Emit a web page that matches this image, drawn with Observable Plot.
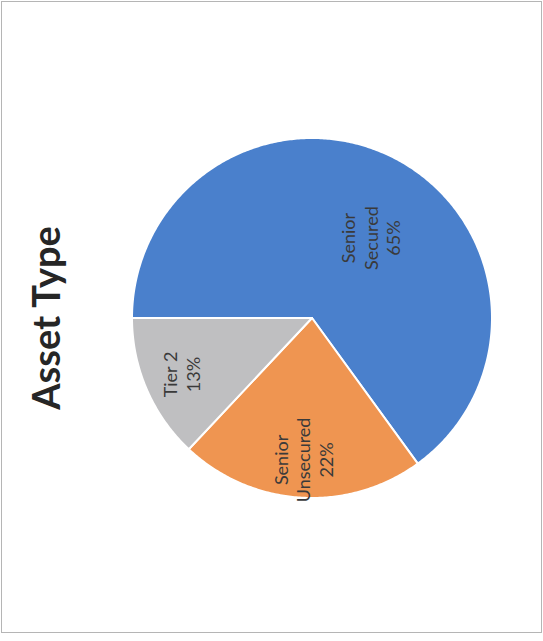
<!DOCTYPE html>
<html>
<head>
<meta charset="utf-8">
<script src="https://cdn.jsdelivr.net/npm/d3@7"></script>
<script src="https://cdn.jsdelivr.net/npm/@observablehq/plot@0.6"></script>
<style>
  html, body { margin: 0; padding: 0; background: #ffffff; }
  #wrap { position: relative; width: 543px; height: 641px; overflow: hidden; background: #ffffff; }
  #frame { position: absolute; left: 1px; top: 1px; width: 539px; height: 630px; border: 1px solid #b5b5b5; box-sizing: content-box; pointer-events: none; }
  #chart { position: absolute; left: 0; top: 0; }
</style>
</head>
<body>
<div id="wrap">
  <div id="chart"></div>
  <div id="frame"></div>
</div>
<script>
const title = "Asset Type";
const categories = ["Senior Secured", "Senior Unsecured", "Tier 2"];
const labelLines = [["Senior", "Secured"], ["Senior", "Unsecured"], ["Tier 2"]];
const values = [65, 22, 13];
const colors = ["#4a80cc", "#ef9551", "#bfbfc1"];

// pie angles (clockwise, starting at the 9 o'clock position as in the rotated slide)
const arcs = d3.pie().sort(null).value(d => d)(values);
const total = d3.sum(values);

const slicePts = [];
arcs.forEach((a, i) => {
  const n = Math.max(2, Math.ceil((a.endAngle - a.startAngle) / 0.01));
  slicePts.push({cat: categories[i], x: 0, y: 0});
  for (let k = 0; k <= n; k++) {
    const t = a.startAngle + (a.endAngle - a.startAngle) * k / n;
    slicePts.push({cat: categories[i], x: -Math.cos(t), y: Math.sin(t)});
  }
  slicePts.push({cat: categories[i], x: 0, y: 0});
});

const labels = arcs.map((a, i) => {
  const frac = values[i] / total;
  const m = (a.startAngle + a.endAngle) / 2 + (frac > 0.5 ? 0.16 : 0);
  const r = frac > 0.5 ? 0.55 : 0.79;
  return {
    cat: categories[i],
    text: labelLines[i].concat([Math.round(frac * 100) + "%"]).join("\n"),
    x: -Math.cos(m) * r,
    y: Math.sin(m) * r
  };
});

const W = 543, H = 641;
const chart = Plot.plot({
  width: W,
  height: H,
  marginLeft: 131.5,
  marginRight: 51.5,
  marginTop: 137.5,
  marginBottom: 143.5,
  x: {domain: [-1, 1], axis: null},
  y: {domain: [-1, 1], axis: null},
  color: {domain: categories, range: colors},
  style: {background: "transparent", fontFamily: "Lato, 'Open Sans', sans-serif"},
  marks: [
    Plot.line(slicePts, {x: "x", y: "y", z: "cat", fill: "cat", stroke: "#ffffff", strokeWidth: 2, strokeLinejoin: "round", curve: "linear"}),
    Plot.text(labels, {x: "x", y: "y", text: "text", rotate: -90, fontSize: 18, lineHeight: 1.24, fill: "#3a3a3a", textAnchor: "middle"}),
    Plot.text([title], {frameAnchor: "left", text: d => d, rotate: -90, dx: -84, textAnchor: "middle", fontSize: 38, fontWeight: "bold", fill: "#262626"})
  ]
});
document.getElementById("chart").appendChild(chart);
</script>
</body>
</html>
